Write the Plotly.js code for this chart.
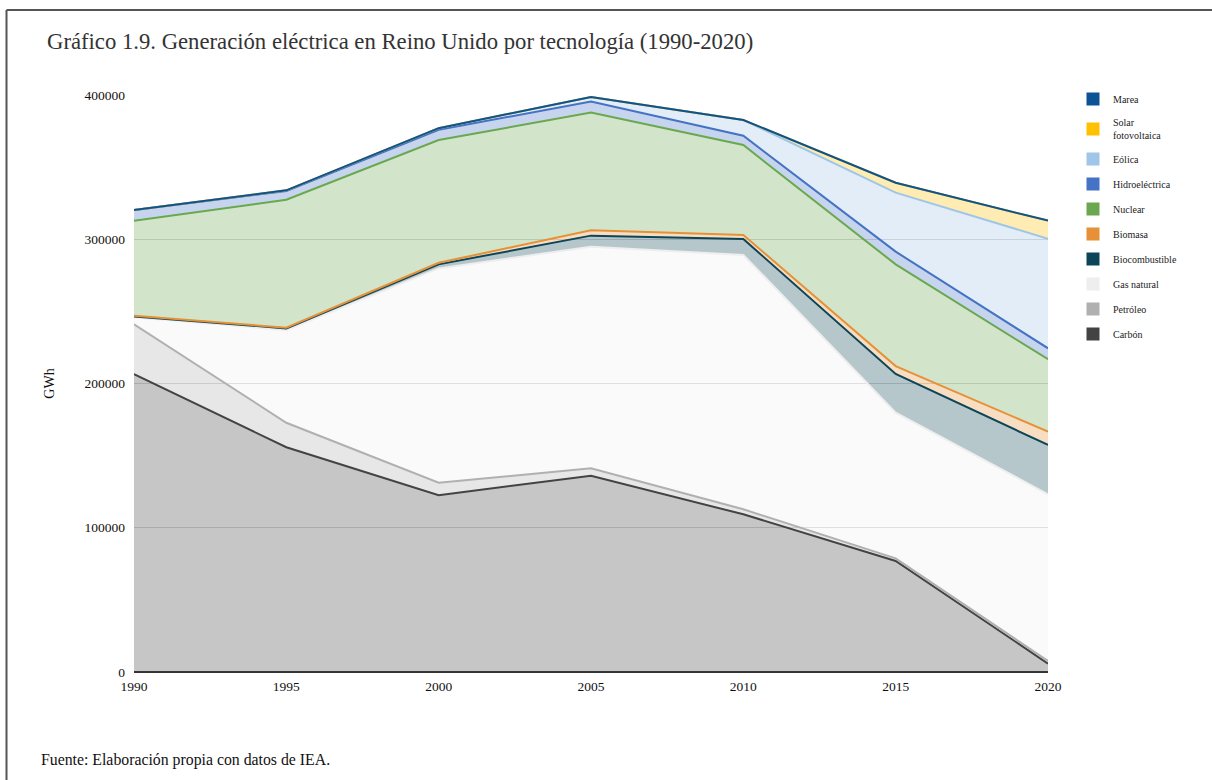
<!DOCTYPE html>
<html>
<head>
<meta charset="utf-8">
<script src="https://cdn.plot.ly/plotly-3.0.1.min.js"></script>
<style>
  html, body { margin: 0; padding: 0; background: #ffffff; }
  #chart { width: 1212px; height: 780px; }
</style>
</head>
<body>
<div id="chart"></div>
<script>
// Generación eléctrica en Reino Unido por tecnología, GWh
const years = [1990, 1995, 2000, 2005, 2010, 2015, 2020];

const carbon         = [206500, 155800, 122500, 136100, 109300, 77000, 5800];
const petroleo       = [34500, 17000, 8700, 5100, 3500, 1800, 1800];
const gasNatural     = [5000, 64200, 148600, 153600, 176300, 101000, 115600];
const biocombustible = [500, 1200, 2800, 7700, 11100, 26800, 34200];
const biomasa        = [500, 500, 1100, 3700, 2800, 5500, 9200];
const nuclear        = [65900, 88700, 85100, 81600, 62300, 70500, 50200];
const hidroelectrica = [7300, 6100, 7100, 7600, 6500, 8800, 7600];
const eolica         = [0, 400, 1100, 3200, 10900, 40900, 76000];
const solar          = [0, 0, 0, 0, 0, 6900, 12500];
const marea          = [0, 0, 0, 0, 0, 0, 0];

const seriesLabels = ['Carbón', 'Petróleo', 'Gas natural', 'Biocombustible', 'Biomasa',
                      'Nuclear', 'Hidroeléctrica', 'Eólica', 'Solar<br>fotovoltaica', 'Marea'];
const seriesValues = [carbon, petroleo, gasNatural, biocombustible, biomasa,
                      nuclear, hidroelectrica, eolica, solar, marea];

const yTicks = [0, 100000, 200000, 300000, 400000];

// line colours, one per technology (bottom of the stack first)
const lineColors = ['#434343', '#b0b0b0', '#eeeeee', '#0c4557', '#e69138',
                    '#6aa84f', '#4472c4', '#9fc5e8', '#ffc000', '#0b5394'];

function withAlpha(hex, a) {
  const r = parseInt(hex.slice(1, 3), 16);
  const g = parseInt(hex.slice(3, 5), 16);
  const b = parseInt(hex.slice(5, 7), 16);
  return `rgba(${r},${g},${b},${a})`;
}

const traces = [];

// stacked areas
seriesValues.forEach((vals, i) => {
  traces.push({
    type: 'scatter',
    mode: 'lines',
    x: years,
    y: vals,
    stackgroup: 'tec',
    name: seriesLabels[i].replace('<br>', ' '),
    line: { color: lineColors[i], width: 2, shape: 'linear' },
    fillcolor: withAlpha(lineColors[i], 0.3),
    showlegend: false,
    hoverinfo: 'x+y+name'
  });
});

// square swatches for the legend, top of the stack listed first
for (let i = seriesValues.length - 1; i >= 0; i--) {
  traces.push({
    type: 'scatter',
    mode: 'markers',
    x: [null],
    y: [null],
    name: seriesLabels[i],
    legendgroup: 'g' + i,
    marker: { symbol: 'square', size: 13, color: lineColors[i], line: { width: 0 } },
    showlegend: true,
    hoverinfo: 'skip'
  });
}

// plot-area geometry in pixels, used to place the frame and footnote
const W = 1212, H = 780;
const M = { l: 134, r: 164, t: 95, b: 108 };
const pw = W - M.l - M.r, ph = H - M.t - M.b;
const px = x => (x - M.l) / pw;
const py = y => (H - M.b - y) / ph;

const serif = '"Liberation Serif", "Times New Roman", serif';

const layout = {
  width: W,
  height: H,
  margin: M,
  paper_bgcolor: '#ffffff',
  plot_bgcolor: '#ffffff',
  font: { family: serif, size: 13.5, color: '#111111' },
  title: {
    text: 'Gráfico 1.9. Generación eléctrica en Reino Unido por tecnología (1990-2020)',
    font: { family: serif, size: 22.7, color: '#333333' },
    xref: 'container', yref: 'container',
    x: 47 / W, xanchor: 'left',
    y: 1 - 41 / H, yanchor: 'middle'
  },
  xaxis: {
    range: [1990, 2020],
    tickvals: years,
    ticktext: years.map(String),
    showgrid: false,
    zeroline: false,
    showline: false,
    ticks: '',
    ticklabelstandoff: 4,
    tickfont: { family: serif, size: 13.5, color: '#111111' },
    fixedrange: true
  },
  yaxis: {
    range: [0, 400000],
    tickvals: yTicks,
    ticktext: yTicks.map(String),
    showgrid: true,
    gridcolor: '#d9d9d9',
    gridwidth: 1.3,
    zeroline: true,
    zerolinecolor: '#333333',
    zerolinewidth: 1.5,
    showline: false,
    ticks: '',
    ticklabelstandoff: 8,
    tickfont: { family: serif, size: 13.5, color: '#111111' },
    title: { text: 'GWh', font: { family: serif, size: 14, color: '#111111' }, standoff: 26 },
    fixedrange: true
  },
  showlegend: true,
  legend: {
    x: px(1073), xanchor: 'left',
    y: py(84.5), yanchor: 'top',
    traceorder: 'grouped',
    tracegroupgap: 6,
    font: { family: serif, size: 10, color: '#222222' },
    bgcolor: 'rgba(0,0,0,0)',
    borderwidth: 0
  },
  annotations: [
    {
      text: 'Fuente: Elaboración propia con datos de IEA.',
      xref: 'paper', yref: 'paper',
      x: px(39), xanchor: 'left',
      y: py(760), yanchor: 'middle',
      showarrow: false,
      font: { family: serif, size: 15.8, color: '#111111' }
    }
  ],
  shapes: [
    // outer frame: top and left edges
    { type: 'line', xref: 'paper', yref: 'paper',
      x0: px(6.5), x1: px(W + 5), y0: py(10), y1: py(10),
      line: { color: '#555555', width: 2 } },
    { type: 'line', xref: 'paper', yref: 'paper',
      x0: px(6.5), x1: px(6.5), y0: py(10), y1: py(H + 5),
      line: { color: '#555555', width: 2 } }
  ]
};

Plotly.newPlot('chart', traces, layout, { displayModeBar: false, staticPlot: true });
</script>
</body>
</html>
